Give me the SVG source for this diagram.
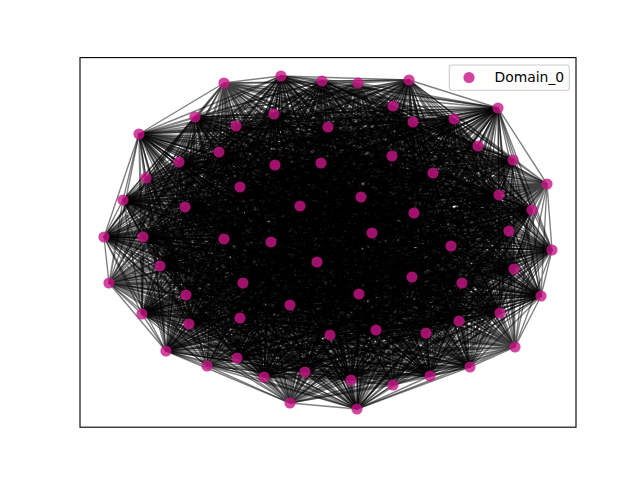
<svg xmlns="http://www.w3.org/2000/svg" width="640" height="480" viewBox="0 0 640 480">
<style>
.e{fill:none;stroke:#000;stroke-opacity:.5;stroke-width:1.39;stroke-linejoin:round}
.n circle{fill:#c71585;fill-opacity:.8}
.t{font-family:"DejaVu Sans","Liberation Sans",sans-serif;font-size:13.9px;fill:#000}
</style>
<rect width="640" height="480" fill="#fff"/>
<g id="edges" class="e">
<path d="M224 83 281 76 358 83 409 80 224 83 552 250 358 83 470 367 224 83 357 409 358 83 305 372 224 83 166 351 358 83 104 237 224 83 139 134 358 83 219 152 224 83 274 114 358 83 413 122 224 83 513 160 358 83 275 165 224 83 361 197 358 83 317 262 224 83 290 305 358 83 499 195 224 83 451 246 358 83 500 313 224 83 376 330 358 83 189 324 224 83 160 266 358 83 185 207 224 83 322 81 358 83 498 108 224 83 541 296 358 83 430 376 224 83 351 380 358 83 264 377 224 83 142 314 358 83 123 200 224 83 195 117 358 83 179 162 224 83 328 127 358 83 454 119 224 83 433 173 358 83 321 163 224 83 372 233 358 83 243 283 224 83 412 277 358 83 532 210 224 83 514 269 358 83 459 321 224 83 330 335 358 83 237 358 224 83 143 237 358 83"/>
<path d="M547 184 281 76 515 347 409 80 547 184 552 250 515 347 470 367 547 184 357 409 515 347 305 372 547 184 166 351 515 347 104 237 547 184 139 134 515 347 219 152 547 184 274 114 515 347 413 122 547 184 513 160 515 347 275 165 547 184 361 197 515 347 317 262 547 184 290 305 515 347 499 195 547 184 451 246 515 347 500 313 547 184 376 330 515 347 189 324 547 184 160 266 515 347 185 207 547 184 322 81 515 347 498 108 547 184 541 296 515 347 430 376 547 184 351 380 515 347 264 377 547 184 142 314 515 347 123 200 547 184 195 117 515 347 179 162 547 184 328 127 515 347 454 119 547 184 433 173 515 347 321 163 547 184 372 233 515 347 243 283 547 184 412 277 515 347 532 210 547 184 514 269 515 347 459 321 547 184 330 335 515 347 237 358 547 184 143 237 515 347"/>
<path d="M393 385 281 76 290 403 409 80 393 385 552 250 290 403 470 367 393 385 357 409 290 403 305 372 393 385 166 351 290 403 104 237 393 385 139 134 290 403 219 152 393 385 274 114 290 403 413 122 393 385 513 160 290 403 275 165 393 385 361 197 290 403 317 262 393 385 290 305 290 403 499 195 393 385 451 246 290 403 500 313 393 385 376 330 290 403 189 324 393 385 160 266 290 403 185 207 393 385 322 81 290 403 498 108 393 385 541 296 290 403 430 376 393 385 351 380 290 403 264 377 393 385 142 314 290 403 123 200 393 385 195 117 290 403 179 162 393 385 328 127 290 403 454 119 393 385 433 173 290 403 321 163 393 385 372 233 290 403 243 283 393 385 412 277 290 403 532 210 393 385 514 269 290 403 459 321 393 385 330 335 290 403 237 358 393 385 143 237 290 403"/>
<path d="M207 366 281 76 109 283 409 80 207 366 552 250 109 283 470 367 207 366 357 409 109 283 305 372 207 366 166 351 109 283 104 237 207 366 139 134 109 283 219 152 207 366 274 114 109 283 413 122 207 366 513 160 109 283 275 165 207 366 361 197 109 283 317 262 207 366 290 305 109 283 499 195 207 366 451 246 109 283 500 313 207 366 376 330 109 283 189 324 207 366 160 266 109 283 185 207 207 366 322 81 109 283 498 108 207 366 541 296 109 283 430 376 207 366 351 380 109 283 264 377 207 366 142 314 109 283 123 200 207 366 195 117 109 283 179 162 207 366 328 127 109 283 454 119 207 366 433 173 109 283 321 163 207 366 372 233 109 283 243 283 207 366 412 277 109 283 532 210 207 366 514 269 109 283 459 321 207 366 330 335 109 283 237 358 207 366 143 237 109 283"/>
<path d="M146 178 281 76 236 126 409 80 146 178 552 250 236 126 470 367 146 178 357 409 236 126 305 372 146 178 166 351 236 126 104 237 146 178 139 134 236 126 219 152 146 178 274 114 236 126 413 122 146 178 513 160 236 126 275 165 146 178 361 197 236 126 317 262 146 178 290 305 236 126 499 195 146 178 451 246 236 126 500 313 146 178 376 330 236 126 189 324 146 178 160 266 236 126 185 207 146 178 322 81 236 126 498 108 146 178 541 296 236 126 430 376 146 178 351 380 236 126 264 377 146 178 142 314 236 126 123 200 146 178 195 117 236 126 179 162 146 178 328 127 236 126 454 119 146 178 433 173 236 126 321 163 146 178 372 233 236 126 243 283 146 178 412 277 236 126 532 210 146 178 514 269 236 126 459 321 146 178 330 335 236 126 237 358 146 178 143 237 236 126"/>
<path d="M240 187 281 76 393 106 409 80 240 187 552 250 393 106 470 367 240 187 357 409 393 106 305 372 240 187 166 351 393 106 104 237 240 187 139 134 393 106 219 152 240 187 274 114 393 106 413 122 240 187 513 160 393 106 275 165 240 187 361 197 393 106 317 262 240 187 290 305 393 106 499 195 240 187 451 246 393 106 500 313 240 187 376 330 393 106 189 324 240 187 160 266 393 106 185 207 240 187 322 81 393 106 498 108 240 187 541 296 393 106 430 376 240 187 351 380 393 106 264 377 240 187 142 314 393 106 123 200 240 187 195 117 393 106 179 162 240 187 328 127 393 106 454 119 240 187 433 173 393 106 321 163 240 187 372 233 393 106 243 283 240 187 412 277 393 106 532 210 240 187 514 269 393 106 459 321 240 187 330 335 393 106 237 358 240 187 143 237 393 106"/>
<path d="M478 146 281 76 392 156 409 80 478 146 552 250 392 156 470 367 478 146 357 409 392 156 305 372 478 146 166 351 392 156 104 237 478 146 139 134 392 156 219 152 478 146 274 114 392 156 413 122 478 146 513 160 392 156 275 165 478 146 361 197 392 156 317 262 478 146 290 305 392 156 499 195 478 146 451 246 392 156 500 313 478 146 376 330 392 156 189 324 478 146 160 266 392 156 185 207 478 146 322 81 392 156 498 108 478 146 541 296 392 156 430 376 478 146 351 380 392 156 264 377 478 146 142 314 392 156 123 200 478 146 195 117 392 156 179 162 478 146 328 127 392 156 454 119 478 146 433 173 392 156 321 163 478 146 372 233 392 156 243 283 478 146 412 277 392 156 532 210 478 146 514 269 392 156 459 321 478 146 330 335 392 156 237 358 478 146 143 237 392 156"/>
<path d="M300 206 281 76 271 242 409 80 300 206 552 250 271 242 470 367 300 206 357 409 271 242 305 372 300 206 166 351 271 242 104 237 300 206 139 134 271 242 219 152 300 206 274 114 271 242 413 122 300 206 513 160 271 242 275 165 300 206 361 197 271 242 317 262 300 206 290 305 271 242 499 195 300 206 451 246 271 242 500 313 300 206 376 330 271 242 189 324 300 206 160 266 271 242 185 207 300 206 322 81 271 242 498 108 300 206 541 296 271 242 430 376 300 206 351 380 271 242 264 377 300 206 142 314 271 242 123 200 300 206 195 117 271 242 179 162 300 206 328 127 271 242 454 119 300 206 433 173 271 242 321 163 300 206 372 233 271 242 243 283 300 206 412 277 271 242 532 210 300 206 514 269 271 242 459 321 300 206 330 335 271 242 237 358 300 206 143 237 271 242"/>
<path d="M359 294 281 76 414 213 409 80 359 294 552 250 414 213 470 367 359 294 357 409 414 213 305 372 359 294 166 351 414 213 104 237 359 294 139 134 414 213 219 152 359 294 274 114 414 213 413 122 359 294 513 160 414 213 275 165 359 294 361 197 414 213 317 262 359 294 290 305 414 213 499 195 359 294 451 246 414 213 500 313 359 294 376 330 414 213 189 324 359 294 160 266 414 213 185 207 359 294 322 81 414 213 498 108 359 294 541 296 414 213 430 376 359 294 351 380 414 213 264 377 359 294 142 314 414 213 123 200 359 294 195 117 414 213 179 162 359 294 328 127 414 213 454 119 359 294 433 173 414 213 321 163 359 294 372 233 414 213 243 283 359 294 412 277 414 213 532 210 359 294 514 269 414 213 459 321 359 294 330 335 414 213 237 358 359 294 143 237 414 213"/>
<path d="M509 231 281 76 462 283 409 80 509 231 552 250 462 283 470 367 509 231 357 409 462 283 305 372 509 231 166 351 462 283 104 237 509 231 139 134 462 283 219 152 509 231 274 114 462 283 413 122 509 231 513 160 462 283 275 165 509 231 361 197 462 283 317 262 509 231 290 305 462 283 499 195 509 231 451 246 462 283 500 313 509 231 376 330 462 283 189 324 509 231 160 266 462 283 185 207 509 231 322 81 462 283 498 108 509 231 541 296 462 283 430 376 509 231 351 380 462 283 264 377 509 231 142 314 462 283 123 200 509 231 195 117 462 283 179 162 509 231 328 127 462 283 454 119 509 231 433 173 462 283 321 163 509 231 372 233 462 283 243 283 509 231 412 277 462 283 532 210 509 231 514 269 462 283 459 321 509 231 330 335 462 283 237 358 509 231 143 237 462 283"/>
<path d="M426 333 281 76 240 318 409 80 426 333 552 250 240 318 470 367 426 333 357 409 240 318 305 372 426 333 166 351 240 318 104 237 426 333 139 134 240 318 219 152 426 333 274 114 240 318 413 122 426 333 513 160 240 318 275 165 426 333 361 197 240 318 317 262 426 333 290 305 240 318 499 195 426 333 451 246 240 318 500 313 426 333 376 330 240 318 189 324 426 333 160 266 240 318 185 207 426 333 322 81 240 318 498 108 426 333 541 296 240 318 430 376 426 333 351 380 240 318 264 377 426 333 142 314 240 318 123 200 426 333 195 117 240 318 179 162 426 333 328 127 240 318 454 119 426 333 433 173 240 318 321 163 426 333 372 233 240 318 243 283 426 333 412 277 240 318 532 210 426 333 514 269 240 318 459 321 426 333 330 335 240 318 237 358 426 333 143 237 240 318"/>
<path d="M186 295 281 76 224 239 409 80 186 295 552 250 224 239 470 367 186 295 357 409 224 239 305 372 186 295 166 351 224 239 104 237 186 295 139 134 224 239 219 152 186 295 274 114 224 239 413 122 186 295 513 160 224 239 275 165 186 295 361 197 224 239 317 262 186 295 290 305 224 239 499 195 186 295 451 246 224 239 500 313 186 295 376 330 224 239 189 324 186 295 160 266 224 239 185 207 186 295 322 81 224 239 498 108 186 295 541 296 224 239 430 376 186 295 351 380 224 239 264 377 186 295 142 314 224 239 123 200 186 295 195 117 224 239 179 162 186 295 328 127 224 239 454 119 186 295 433 173 224 239 321 163 186 295 372 233 224 239 243 283 186 295 412 277 224 239 532 210 186 295 514 269 224 239 459 321 186 295 330 335 224 239 237 358 186 295 143 237 224 239"/>
<path d="M281 76 322 81 409 80 498 108 281 76 541 296 409 80 430 376 281 76 351 380 409 80 264 377 281 76 142 314 409 80 123 200 281 76 195 117 409 80 179 162 281 76 328 127 409 80 454 119 281 76 433 173 409 80 321 163 281 76 372 233 409 80 243 283 281 76 412 277 409 80 532 210 281 76 514 269 409 80 459 321 281 76 330 335 409 80 237 358 281 76 143 237 409 80"/>
<path d="M552 250 322 81 470 367 498 108 552 250 541 296 470 367 430 376 552 250 351 380 470 367 264 377 552 250 142 314 470 367 123 200 552 250 195 117 470 367 179 162 552 250 328 127 470 367 454 119 552 250 433 173 470 367 321 163 552 250 372 233 470 367 243 283 552 250 412 277 470 367 532 210 552 250 514 269 470 367 459 321 552 250 330 335 470 367 237 358 552 250 143 237 470 367"/>
<path d="M357 409 322 81 305 372 498 108 357 409 541 296 305 372 430 376 357 409 351 380 305 372 264 377 357 409 142 314 305 372 123 200 357 409 195 117 305 372 179 162 357 409 328 127 305 372 454 119 357 409 433 173 305 372 321 163 357 409 372 233 305 372 243 283 357 409 412 277 305 372 532 210 357 409 514 269 305 372 459 321 357 409 330 335 305 372 237 358 357 409 143 237 305 372"/>
<path d="M166 351 322 81 104 237 498 108 166 351 541 296 104 237 430 376 166 351 351 380 104 237 264 377 166 351 142 314 104 237 123 200 166 351 195 117 104 237 179 162 166 351 328 127 104 237 454 119 166 351 433 173 104 237 321 163 166 351 372 233 104 237 243 283 166 351 412 277 104 237 532 210 166 351 514 269 104 237 459 321 166 351 330 335 104 237 237 358 166 351 143 237 104 237"/>
<path d="M139 134 322 81 219 152 498 108 139 134 541 296 219 152 430 376 139 134 351 380 219 152 264 377 139 134 142 314 219 152 123 200 139 134 195 117 219 152 179 162 139 134 328 127 219 152 454 119 139 134 433 173 219 152 321 163 139 134 372 233 219 152 243 283 139 134 412 277 219 152 532 210 139 134 514 269 219 152 459 321 139 134 330 335 219 152 237 358 139 134 143 237 219 152"/>
<path d="M274 114 322 81 413 122 498 108 274 114 541 296 413 122 430 376 274 114 351 380 413 122 264 377 274 114 142 314 413 122 123 200 274 114 195 117 413 122 179 162 274 114 328 127 413 122 454 119 274 114 433 173 413 122 321 163 274 114 372 233 413 122 243 283 274 114 412 277 413 122 532 210 274 114 514 269 413 122 459 321 274 114 330 335 413 122 237 358 274 114 143 237 413 122"/>
<path d="M513 160 322 81 275 165 498 108 513 160 541 296 275 165 430 376 513 160 351 380 275 165 264 377 513 160 142 314 275 165 123 200 513 160 195 117 275 165 179 162 513 160 328 127 275 165 454 119 513 160 433 173 275 165 321 163 513 160 372 233 275 165 243 283 513 160 412 277 275 165 532 210 513 160 514 269 275 165 459 321 513 160 330 335 275 165 237 358 513 160 143 237 275 165"/>
<path d="M361 197 322 81 317 262 498 108 361 197 541 296 317 262 430 376 361 197 351 380 317 262 264 377 361 197 142 314 317 262 123 200 361 197 195 117 317 262 179 162 361 197 328 127 317 262 454 119 361 197 433 173 317 262 321 163 361 197 372 233 317 262 243 283 361 197 412 277 317 262 532 210 361 197 514 269 317 262 459 321 361 197 330 335 317 262 237 358 361 197 143 237 317 262"/>
<path d="M290 305 322 81 499 195 498 108 290 305 541 296 499 195 430 376 290 305 351 380 499 195 264 377 290 305 142 314 499 195 123 200 290 305 195 117 499 195 179 162 290 305 328 127 499 195 454 119 290 305 433 173 499 195 321 163 290 305 372 233 499 195 243 283 290 305 412 277 499 195 532 210 290 305 514 269 499 195 459 321 290 305 330 335 499 195 237 358 290 305 143 237 499 195"/>
<path d="M451 246 322 81 500 313 498 108 451 246 541 296 500 313 430 376 451 246 351 380 500 313 264 377 451 246 142 314 500 313 123 200 451 246 195 117 500 313 179 162 451 246 328 127 500 313 454 119 451 246 433 173 500 313 321 163 451 246 372 233 500 313 243 283 451 246 412 277 500 313 532 210 451 246 514 269 500 313 459 321 451 246 330 335 500 313 237 358 451 246 143 237 500 313"/>
<path d="M376 330 322 81 189 324 498 108 376 330 541 296 189 324 430 376 376 330 351 380 189 324 264 377 376 330 142 314 189 324 123 200 376 330 195 117 189 324 179 162 376 330 328 127 189 324 454 119 376 330 433 173 189 324 321 163 376 330 372 233 189 324 243 283 376 330 412 277 189 324 532 210 376 330 514 269 189 324 459 321 376 330 330 335 189 324 237 358 376 330 143 237 189 324"/>
<path d="M160 266 322 81 185 207 498 108 160 266 541 296 185 207 430 376 160 266 351 380 185 207 264 377 160 266 142 314 185 207 123 200 160 266 195 117 185 207 179 162 160 266 328 127 185 207 454 119 160 266 433 173 185 207 321 163 160 266 372 233 185 207 243 283 160 266 412 277 185 207 532 210 160 266 514 269 185 207 459 321 160 266 330 335 185 207 237 358 160 266 143 237 185 207"/>
<path d="M358 83 224 83 547 184 358 83 515 347 224 83 393 385 358 83 290 403 224 83 207 366 358 83 109 283 224 83 146 178 358 83 236 126 224 83 240 187 358 83 393 106 224 83 478 146 358 83 392 156 224 83 300 206 358 83 271 242 224 83 359 294 358 83 414 213 224 83 509 231 358 83 462 283 224 83 426 333 358 83 240 318 224 83 186 295 358 83 224 239 224 83"/>
<path d="M515 347 547 184 393 385 515 347 290 403 547 184 207 366 515 347 109 283 547 184 146 178 515 347 236 126 547 184 240 187 515 347 393 106 547 184 478 146 515 347 392 156 547 184 300 206 515 347 271 242 547 184 359 294 515 347 414 213 547 184 509 231 515 347 462 283 547 184 426 333 515 347 240 318 547 184 186 295 515 347 224 239 547 184"/>
<path d="M290 403 393 385 207 366 290 403 109 283 393 385 146 178 290 403 236 126 393 385 240 187 290 403 393 106 393 385 478 146 290 403 392 156 393 385 300 206 290 403 271 242 393 385 359 294 290 403 414 213 393 385 509 231 290 403 462 283 393 385 426 333 290 403 240 318 393 385 186 295 290 403 224 239 393 385"/>
<path d="M109 283 207 366 146 178 109 283 236 126 207 366 240 187 109 283 393 106 207 366 478 146 109 283 392 156 207 366 300 206 109 283 271 242 207 366 359 294 109 283 414 213 207 366 509 231 109 283 462 283 207 366 426 333 109 283 240 318 207 366 186 295 109 283 224 239 207 366"/>
<path d="M236 126 146 178 240 187 236 126 393 106 146 178 478 146 236 126 392 156 146 178 300 206 236 126 271 242 146 178 359 294 236 126 414 213 146 178 509 231 236 126 462 283 146 178 426 333 236 126 240 318 146 178 186 295 236 126 224 239 146 178"/>
<path d="M393 106 240 187 478 146 393 106 392 156 240 187 300 206 393 106 271 242 240 187 359 294 393 106 414 213 240 187 509 231 393 106 462 283 240 187 426 333 393 106 240 318 240 187 186 295 393 106 224 239 240 187"/>
<path d="M392 156 478 146 300 206 392 156 271 242 478 146 359 294 392 156 414 213 478 146 509 231 392 156 462 283 478 146 426 333 392 156 240 318 478 146 186 295 392 156 224 239 478 146"/>
<path d="M271 242 300 206 359 294 271 242 414 213 300 206 509 231 271 242 462 283 300 206 426 333 271 242 240 318 300 206 186 295 271 242 224 239 300 206"/>
<path d="M414 213 359 294 509 231 414 213 462 283 359 294 426 333 414 213 240 318 359 294 186 295 414 213 224 239 359 294"/>
<path d="M462 283 509 231 426 333 462 283 240 318 509 231 186 295 462 283 224 239 509 231"/>
<path d="M240 318 426 333 186 295 240 318 224 239 426 333"/>
<path d="M224 239 186 295"/>
<path d="M409 80 281 76 552 250 409 80 470 367 281 76 357 409 409 80 305 372 281 76 166 351 409 80 104 237 281 76 139 134 409 80 219 152 281 76 274 114 409 80 413 122 281 76 513 160 409 80 275 165 281 76 361 197 409 80 317 262 281 76 290 305 409 80 499 195 281 76 451 246 409 80 500 313 281 76 376 330 409 80 189 324 281 76 160 266 409 80 185 207 281 76"/>
<path d="M470 367 552 250 357 409 470 367 305 372 552 250 166 351 470 367 104 237 552 250 139 134 470 367 219 152 552 250 274 114 470 367 413 122 552 250 513 160 470 367 275 165 552 250 361 197 470 367 317 262 552 250 290 305 470 367 499 195 552 250 451 246 470 367 500 313 552 250 376 330 470 367 189 324 552 250 160 266 470 367 185 207 552 250"/>
<path d="M305 372 357 409 166 351 305 372 104 237 357 409 139 134 305 372 219 152 357 409 274 114 305 372 413 122 357 409 513 160 305 372 275 165 357 409 361 197 305 372 317 262 357 409 290 305 305 372 499 195 357 409 451 246 305 372 500 313 357 409 376 330 305 372 189 324 357 409 160 266 305 372 185 207 357 409"/>
<path d="M104 237 166 351 139 134 104 237 219 152 166 351 274 114 104 237 413 122 166 351 513 160 104 237 275 165 166 351 361 197 104 237 317 262 166 351 290 305 104 237 499 195 166 351 451 246 104 237 500 313 166 351 376 330 104 237 189 324 166 351 160 266 104 237 185 207 166 351"/>
<path d="M219 152 139 134 274 114 219 152 413 122 139 134 513 160 219 152 275 165 139 134 361 197 219 152 317 262 139 134 290 305 219 152 499 195 139 134 451 246 219 152 500 313 139 134 376 330 219 152 189 324 139 134 160 266 219 152 185 207 139 134"/>
<path d="M413 122 274 114 513 160 413 122 275 165 274 114 361 197 413 122 317 262 274 114 290 305 413 122 499 195 274 114 451 246 413 122 500 313 274 114 376 330 413 122 189 324 274 114 160 266 413 122 185 207 274 114"/>
<path d="M275 165 513 160 361 197 275 165 317 262 513 160 290 305 275 165 499 195 513 160 451 246 275 165 500 313 513 160 376 330 275 165 189 324 513 160 160 266 275 165 185 207 513 160"/>
<path d="M317 262 361 197 290 305 317 262 499 195 361 197 451 246 317 262 500 313 361 197 376 330 317 262 189 324 361 197 160 266 317 262 185 207 361 197"/>
<path d="M499 195 290 305 451 246 499 195 500 313 290 305 376 330 499 195 189 324 290 305 160 266 499 195 185 207 290 305"/>
<path d="M500 313 451 246 376 330 500 313 189 324 451 246 160 266 500 313 185 207 451 246"/>
<path d="M189 324 376 330 160 266 189 324 185 207 376 330"/>
<path d="M185 207 160 266"/>
<path d="M498 108 322 81 541 296 498 108 430 376 322 81 351 380 498 108 264 377 322 81 142 314 498 108 123 200 322 81 195 117 498 108 179 162 322 81 328 127 498 108 454 119 322 81 433 173 498 108 321 163 322 81 372 233 498 108 243 283 322 81 412 277 498 108 532 210 322 81 514 269 498 108 459 321 322 81 330 335 498 108 237 358 322 81 143 237 498 108"/>
<path d="M430 376 541 296 351 380 430 376 264 377 541 296 142 314 430 376 123 200 541 296 195 117 430 376 179 162 541 296 328 127 430 376 454 119 541 296 433 173 430 376 321 163 541 296 372 233 430 376 243 283 541 296 412 277 430 376 532 210 541 296 514 269 430 376 459 321 541 296 330 335 430 376 237 358 541 296 143 237 430 376"/>
<path d="M264 377 351 380 142 314 264 377 123 200 351 380 195 117 264 377 179 162 351 380 328 127 264 377 454 119 351 380 433 173 264 377 321 163 351 380 372 233 264 377 243 283 351 380 412 277 264 377 532 210 351 380 514 269 264 377 459 321 351 380 330 335 264 377 237 358 351 380 143 237 264 377"/>
<path d="M123 200 142 314 195 117 123 200 179 162 142 314 328 127 123 200 454 119 142 314 433 173 123 200 321 163 142 314 372 233 123 200 243 283 142 314 412 277 123 200 532 210 142 314 514 269 123 200 459 321 142 314 330 335 123 200 237 358 142 314 143 237 123 200"/>
<path d="M179 162 195 117 328 127 179 162 454 119 195 117 433 173 179 162 321 163 195 117 372 233 179 162 243 283 195 117 412 277 179 162 532 210 195 117 514 269 179 162 459 321 195 117 330 335 179 162 237 358 195 117 143 237 179 162"/>
<path d="M454 119 328 127 433 173 454 119 321 163 328 127 372 233 454 119 243 283 328 127 412 277 454 119 532 210 328 127 514 269 454 119 459 321 328 127 330 335 454 119 237 358 328 127 143 237 454 119"/>
<path d="M321 163 433 173 372 233 321 163 243 283 433 173 412 277 321 163 532 210 433 173 514 269 321 163 459 321 433 173 330 335 321 163 237 358 433 173 143 237 321 163"/>
<path d="M243 283 372 233 412 277 243 283 532 210 372 233 514 269 243 283 459 321 372 233 330 335 243 283 237 358 372 233 143 237 243 283"/>
<path d="M532 210 412 277 514 269 532 210 459 321 412 277 330 335 532 210 237 358 412 277 143 237 532 210"/>
<path d="M459 321 514 269 330 335 459 321 237 358 514 269 143 237 459 321"/>
<path d="M237 358 330 335 143 237 237 358"/>
</g>
<g id="nodes" class="n">
<g id="n1"><circle cx="224" cy="83" r="5.6"/></g>
<g id="n2"><circle cx="281" cy="76" r="5.6"/></g>
<g id="n3"><circle cx="322" cy="81" r="5.6"/></g>
<g id="n4"><circle cx="358" cy="83" r="5.6"/></g>
<g id="n5"><circle cx="409" cy="80" r="5.6"/></g>
<g id="n6"><circle cx="498" cy="108" r="5.6"/></g>
<g id="n7"><circle cx="547" cy="184" r="5.6"/></g>
<g id="n8"><circle cx="552" cy="250" r="5.6"/></g>
<g id="n9"><circle cx="541" cy="296" r="5.6"/></g>
<g id="n10"><circle cx="515" cy="347" r="5.6"/></g>
<g id="n11"><circle cx="470" cy="367" r="5.6"/></g>
<g id="n12"><circle cx="430" cy="376" r="5.6"/></g>
<g id="n13"><circle cx="393" cy="385" r="5.6"/></g>
<g id="n14"><circle cx="357" cy="409" r="5.6"/></g>
<g id="n15"><circle cx="351" cy="380" r="5.6"/></g>
<g id="n16"><circle cx="290" cy="403" r="5.6"/></g>
<g id="n17"><circle cx="305" cy="372" r="5.6"/></g>
<g id="n18"><circle cx="264" cy="377" r="5.6"/></g>
<g id="n19"><circle cx="207" cy="366" r="5.6"/></g>
<g id="n20"><circle cx="166" cy="351" r="5.6"/></g>
<g id="n21"><circle cx="142" cy="314" r="5.6"/></g>
<g id="n22"><circle cx="109" cy="283" r="5.6"/></g>
<g id="n23"><circle cx="104" cy="237" r="5.6"/></g>
<g id="n24"><circle cx="123" cy="200" r="5.6"/></g>
<g id="n25"><circle cx="146" cy="178" r="5.6"/></g>
<g id="n26"><circle cx="139" cy="134" r="5.6"/></g>
<g id="n27"><circle cx="195" cy="117" r="5.6"/></g>
<g id="n28"><circle cx="236" cy="126" r="5.6"/></g>
<g id="n29"><circle cx="219" cy="152" r="5.6"/></g>
<g id="n30"><circle cx="179" cy="162" r="5.6"/></g>
<g id="n31"><circle cx="240" cy="187" r="5.6"/></g>
<g id="n32"><circle cx="274" cy="114" r="5.6"/></g>
<g id="n33"><circle cx="328" cy="127" r="5.6"/></g>
<g id="n34"><circle cx="393" cy="106" r="5.6"/></g>
<g id="n35"><circle cx="413" cy="122" r="5.6"/></g>
<g id="n36"><circle cx="454" cy="119" r="5.6"/></g>
<g id="n37"><circle cx="478" cy="146" r="5.6"/></g>
<g id="n38"><circle cx="513" cy="160" r="5.6"/></g>
<g id="n39"><circle cx="433" cy="173" r="5.6"/></g>
<g id="n40"><circle cx="392" cy="156" r="5.6"/></g>
<g id="n41"><circle cx="275" cy="165" r="5.6"/></g>
<g id="n42"><circle cx="321" cy="163" r="5.6"/></g>
<g id="n43"><circle cx="300" cy="206" r="5.6"/></g>
<g id="n44"><circle cx="361" cy="197" r="5.6"/></g>
<g id="n45"><circle cx="372" cy="233" r="5.6"/></g>
<g id="n46"><circle cx="271" cy="242" r="5.6"/></g>
<g id="n47"><circle cx="317" cy="262" r="5.6"/></g>
<g id="n48"><circle cx="243" cy="283" r="5.6"/></g>
<g id="n49"><circle cx="359" cy="294" r="5.6"/></g>
<g id="n50"><circle cx="290" cy="305" r="5.6"/></g>
<g id="n51"><circle cx="412" cy="277" r="5.6"/></g>
<g id="n52"><circle cx="414" cy="213" r="5.6"/></g>
<g id="n53"><circle cx="499" cy="195" r="5.6"/></g>
<g id="n54"><circle cx="532" cy="210" r="5.6"/></g>
<g id="n55"><circle cx="509" cy="231" r="5.6"/></g>
<g id="n56"><circle cx="451" cy="246" r="5.6"/></g>
<g id="n57"><circle cx="514" cy="269" r="5.6"/></g>
<g id="n58"><circle cx="462" cy="283" r="5.6"/></g>
<g id="n59"><circle cx="500" cy="313" r="5.6"/></g>
<g id="n60"><circle cx="459" cy="321" r="5.6"/></g>
<g id="n61"><circle cx="426" cy="333" r="5.6"/></g>
<g id="n62"><circle cx="376" cy="330" r="5.6"/></g>
<g id="n63"><circle cx="330" cy="335" r="5.6"/></g>
<g id="n64"><circle cx="240" cy="318" r="5.6"/></g>
<g id="n65"><circle cx="189" cy="324" r="5.6"/></g>
<g id="n66"><circle cx="237" cy="358" r="5.6"/></g>
<g id="n67"><circle cx="186" cy="295" r="5.6"/></g>
<g id="n68"><circle cx="160" cy="266" r="5.6"/></g>
<g id="n69"><circle cx="143" cy="237" r="5.6"/></g>
<g id="n70"><circle cx="224" cy="239" r="5.6"/></g>
<g id="n71"><circle cx="185" cy="207" r="5.6"/></g>
</g>
<rect x="80" y="57.6" width="496" height="369.6" fill="none" stroke="#000" stroke-width="1.11"/>
<g id="legend">
<rect x="449.3" y="65" width="120" height="25.3" rx="2.8" fill="#fff" fill-opacity=".8" stroke="#ccc" stroke-width="1.11"/>
<circle cx="469" cy="77.5" r="5.6" fill="#c71585" fill-opacity=".8"/>
<text class="t" x="494.5" y="82.4">Domain_0</text>
</g>
</svg>
